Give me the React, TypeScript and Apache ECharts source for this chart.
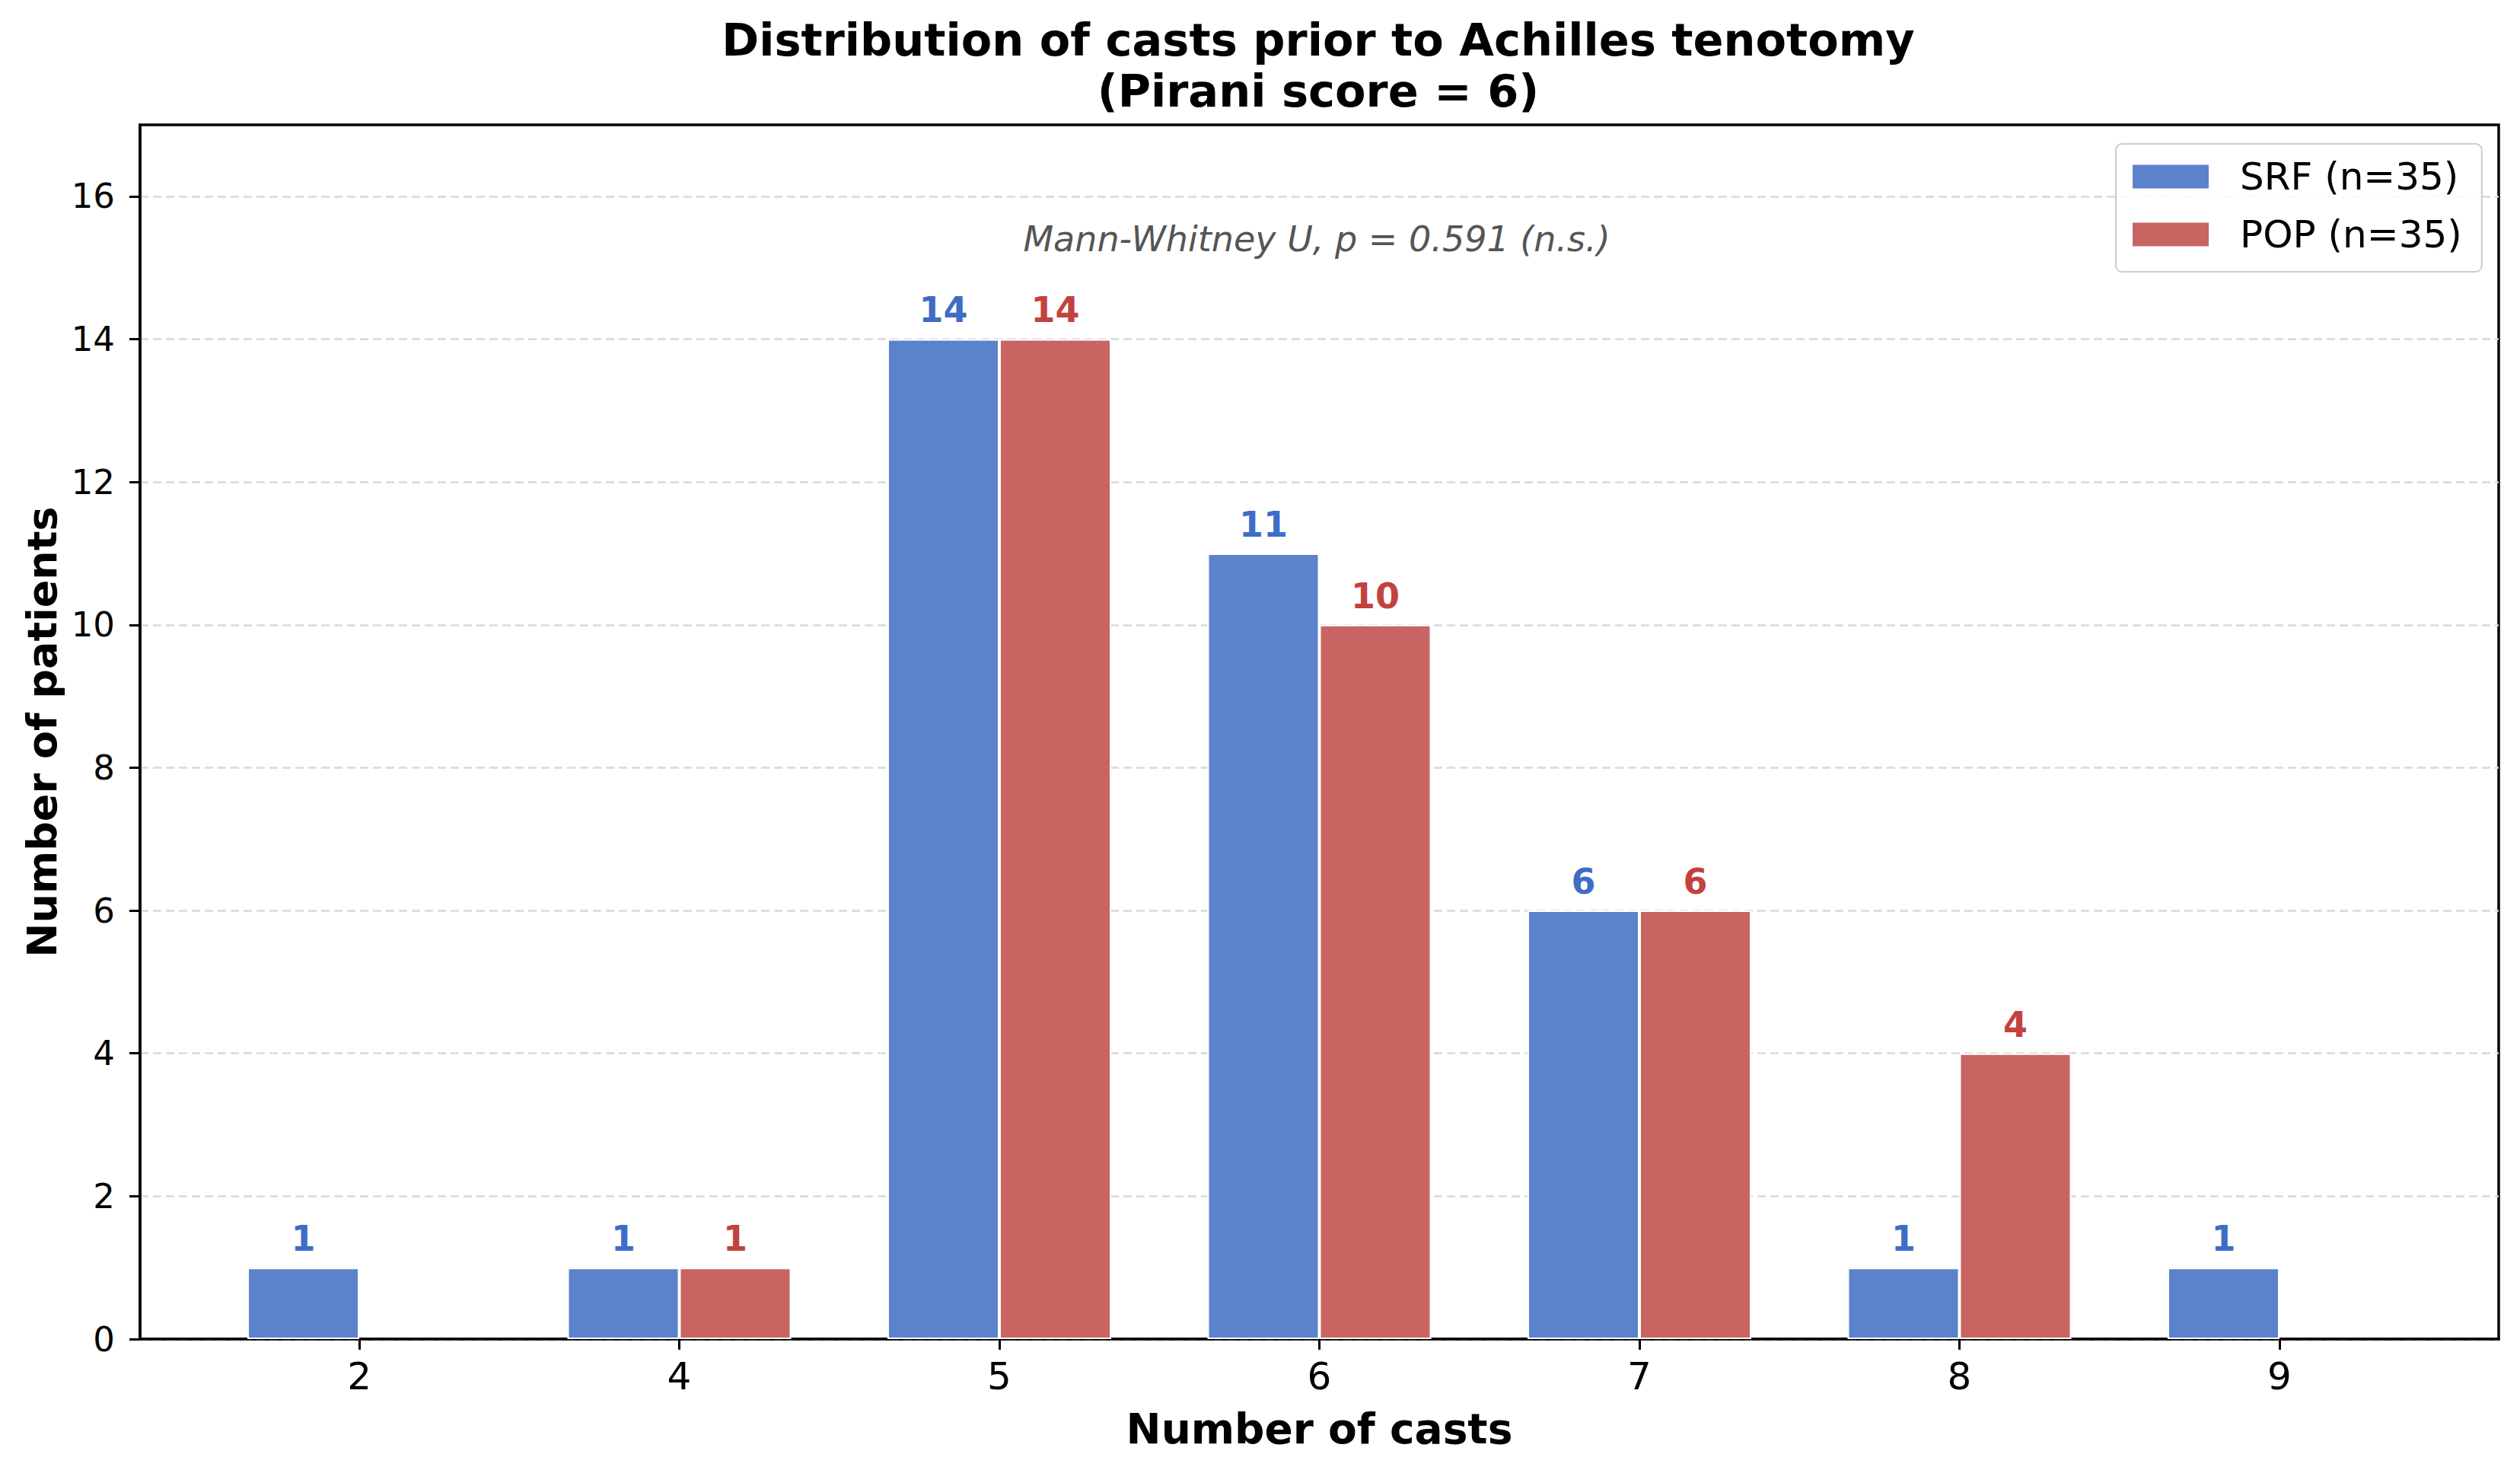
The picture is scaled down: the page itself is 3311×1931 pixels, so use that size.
import React, { useEffect, useRef } from "react";
import * as echarts from "echarts";

const castCategories = ["2", "4", "5", "6", "7", "8", "9"];
const srfCounts = [1, 1, 14, 11, 6, 1, 1];
const popCounts = [0, 1, 14, 10, 6, 4, 0];
const yTickValues = [0, 2, 4, 6, 8, 10, 12, 14, 16];
const seriesNames = ["SRF (n=35)", "POP (n=35)"];
const titleText = "Distribution of casts prior to Achilles tenotomy\n(Pirani score = 6)";
const annotationText = "Mann-Whitney U, p = 0.591 (n.s.)";

const FONT = "DejaVu Sans";
const SRF_BAR = "#5B82CB";
const POP_BAR = "#C86462";
const SRF_LABEL = "#3D6DC6";
const POP_LABEL = "#C2423F";

export default function App() {
  const ref = useRef<HTMLDivElement>(null);
  useEffect(() => {
    if (!ref.current) return;
    const chart = echarts.init(ref.current, null, { renderer: "svg" });
    const idx = castCategories.map((_, i) => i);
    const mk = (vals: number[]) => vals.map((v, i) => (v > 0 ? [i, v] : [i, null]));
    const labelFor = (color: string) => ({
      show: true,
      position: "top",
      distance: 15,
      color,
      fontFamily: FONT,
      fontWeight: "bold",
      fontSize: 46,
      formatter: (p: any) => (p.value && p.value[1] ? String(p.value[1]) : ""),
    });
    chart.setOption({
      animation: false,
      backgroundColor: "#ffffff",
      grid: {
        left: 184,
        right: 28,
        top: 164,
        bottom: 172,
        show: true,
        borderColor: "#000",
        borderWidth: 3.5,
        backgroundColor: "transparent",
        outerBoundsMode: "none",
      },
      legend: {
        orient: "vertical",
        left: 2780,
        top: 189,
        data: seriesNames,
        icon: "rect",
        itemWidth: 100,
        itemHeight: 31,
        itemGap: 26,
        padding: [18, 26, 24, 22],
        backgroundColor: "rgba(255,255,255,0.85)",
        borderColor: "#cccccc",
        borderWidth: 2,
        borderRadius: 8,
        itemStyle: { borderWidth: 0 },
        textStyle: {
          fontFamily: FONT,
          fontSize: 50,
          color: "#000",
          lineHeight: 48,
          padding: [0, 0, 0, 36],
        },
      },
      xAxis: {
        type: "value",
        min: -0.685,
        max: 6.685,
        name: "Number of casts",
        nameLocation: "middle",
        nameGap: 90,
        nameTextStyle: { fontFamily: FONT, fontWeight: "bold", fontSize: 55, color: "#000" },
        axisLine: { show: true, onZero: false, lineStyle: { color: "#000", width: 3.5 } },
        axisTick: { show: true, customValues: idx, length: 14, lineStyle: { color: "#000", width: 3 } },
        axisLabel: {
          customValues: idx,
          formatter: (v: number) => castCategories[Math.round(v)] ?? "",
          fontFamily: FONT,
          fontSize: 50,
          color: "#000",
          margin: 24,
        },
        splitLine: { show: false },
      },
      yAxis: {
        type: "value",
        min: 0,
        max: 17,
        interval: 2,
        name: "Number of patients",
        nameLocation: "middle",
        nameGap: 100,
        nameTextStyle: { fontFamily: FONT, fontWeight: "bold", fontSize: 54, color: "#000" },
        axisLine: { show: true, onZero: false, lineStyle: { color: "#000", width: 3.5 } },
        axisTick: { show: true, customValues: yTickValues, length: 14, lineStyle: { color: "#000", width: 3 } },
        axisLabel: {
          customValues: yTickValues,
          fontFamily: FONT,
          fontSize: 45,
          color: "#000",
          margin: 33,
        },
        splitLine: {
          show: true,
          lineStyle: { color: "#d9d9d9", width: 2.5, type: [11, 6] },
        },
      },
      series: [
        {
          name: seriesNames[0],
          type: "bar",
          data: mk(srfCounts),
          barWidth: 147,
          barGap: "0%",
          itemStyle: { color: SRF_BAR, borderColor: "#ffffff", borderWidth: 2 },
          label: labelFor(SRF_LABEL),
        },
        {
          name: seriesNames[1],
          type: "bar",
          data: mk(popCounts),
          barWidth: 147,
          barGap: "0%",
          itemStyle: { color: POP_BAR, borderColor: "#ffffff", borderWidth: 2 },
          label: labelFor(POP_LABEL),
        },
      ],
      graphic: [
        {
          type: "text",
          x: 1732,
          y: 19,
          style: {
            text: titleText,
            fontFamily: FONT,
            fontWeight: "bold",
            fontSize: 59,
            lineHeight: 67,
            fill: "#000",
            textAlign: "center",
            textVerticalAlign: "top",
          },
        },
        {
          type: "text",
          x: 1730,
          y: 314,
          style: {
            text: annotationText,
            fontFamily: FONT,
            fontStyle: "italic",
            fontSize: 46,
            fill: "#555555",
            textAlign: "center",
            textVerticalAlign: "middle",
          },
        },
      ],
    });
    return () => chart.dispose();
  }, []);
  return (
    <div
      ref={ref}
      style={{ position: "absolute", left: 0, top: 0, width: 3311, height: 1931, background: "#fff" }}
    />
  );
}
